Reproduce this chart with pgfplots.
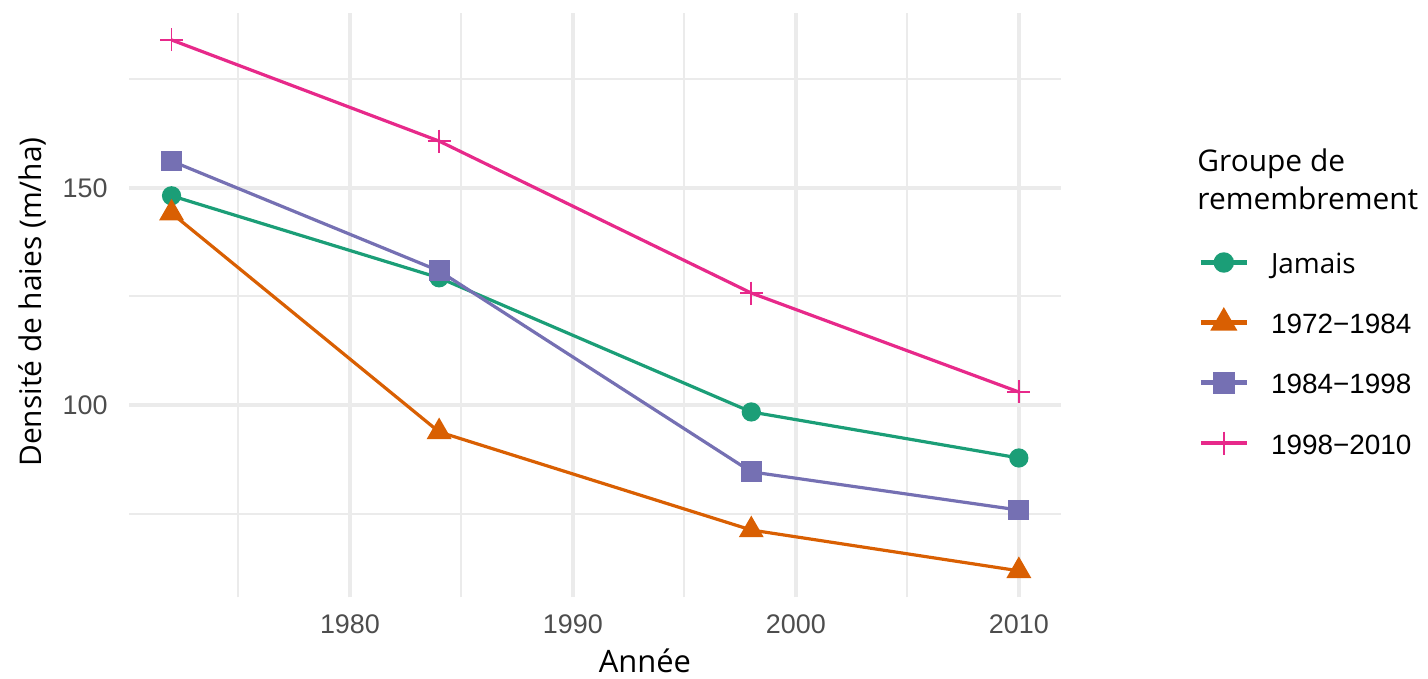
\documentclass[border=0pt]{standalone}
\usepackage{pgfplots}
\pgfplotsset{compat=1.18}
\usepackage{fontspec}
\setmainfont{Open Sans}
\newfontfamily\arialf{Liberation Sans}
\definecolor{cgreen}{HTML}{1B9E77}
\definecolor{corange}{HTML}{D95F02}
\definecolor{cpurple}{HTML}{7570B3}
\definecolor{cpink}{HTML}{E7298A}
\definecolor{gridc}{HTML}{EBEBEB}
\definecolor{tickc}{HTML}{4D4D4D}
\begin{document}
\begin{tikzpicture}
\begin{axis}[
  at={(64.6bp,40.85bp)}, anchor=south west,
  scale only axis, width=466bp, height=291.9bp,
  xmin=1970.1, xmax=2011.9, ymin=55.7, ymax=190.2,
  axis line style={draw=none},
  major tick length=0pt, minor tick length=0pt,
  xtick={1980,1990,2000,2010}, minor xtick={1975,1985,1995,2005},
  ytick={100,150}, minor ytick={75,125,175},
  grid=both,
  major grid style={gridc, line width=2bp},
  minor grid style={gridc, line width=1bp},
  /pgf/number format/assume math mode=true,
  tick label style={font=\arialf\fontsize{13.5}{16}\selectfont, text=tickc},
  xticklabel style={/pgf/number format/1000 sep={}, inner sep=0pt, anchor=north, yshift=-8.5bp},
  yticklabel style={inner sep=0pt, anchor=east, xshift=-10.6bp},
  xlabel={Année},
  xlabel style={at={(axis description cs:0.5534,-0.128)}, anchor=base, inner sep=0pt, font=\fontsize{15.5}{19}\selectfont},
  ylabel={Densité de haies (m/ha)},
  ylabel style={at={(axis description cs:-0.0936,0.5058)}, anchor=base, inner sep=0pt, font=\fontsize{15}{19}\selectfont},
  legend style={at={(axis description cs:1.147,0.593)}, anchor=north west, draw=none, fill=none,
    inner sep=0pt, row sep=19bp, font=\arialf\fontsize{14}{17}\selectfont,
    nodes={inner sep=0pt, text height=11bp, text depth=0bp},
    /tikz/every odd column/.append style={column sep=11bp}},
  legend cell align=left,
  legend image code/.code={\draw[mark repeat=2,mark phase=2,#1,line width=2.2bp] plot coordinates {(0bp,0bp)(11.5bp,0bp)(23bp,0bp)};},
  every axis plot/.append style={line width=1.6bp},
]
\addplot[cgreen, mark=*, mark size=4bp, mark options={draw=none}]
  coordinates {(1972,148.2)(1984,129.3)(1998,98.4)(2010,87.8)};
\addlegendentry{{\rmfamily Jamais}}
\addplot[corange, mark=triangle*, mark size=5.6bp, mark options={draw=none}]
  coordinates {(1972,144.2)(1984,93.8)(1998,71.2)(2010,61.8)};
\addlegendentry{1972−1984}
\addplot[cpurple, mark=square*, mark size=4.4bp, mark options={draw=none}]
  coordinates {(1972,156.2)(1984,130.9)(1998,84.6)(2010,75.8)};
\addlegendentry{1984−1998}
\addplot[cpink, mark=+, mark size=5.75bp, mark options={line width=0.85bp}]
  coordinates {(1972,184.1)(1984,160.8)(1998,125.8)(2010,103.0)};
\addlegendentry{1998−2010}
\end{axis}
\node[anchor=base west, inner sep=0pt, font=\fontsize{15}{19}\selectfont] at (598.5bp,253.5bp) {Groupe de};
\node[anchor=base west, inner sep=0pt, font=\fontsize{15}{19}\selectfont] at (598.5bp,234.5bp) {remembrement};
\pgfresetboundingbox
\useasboundingbox (0,0) rectangle (714bp,339.5bp);
\end{tikzpicture}
\end{document}
